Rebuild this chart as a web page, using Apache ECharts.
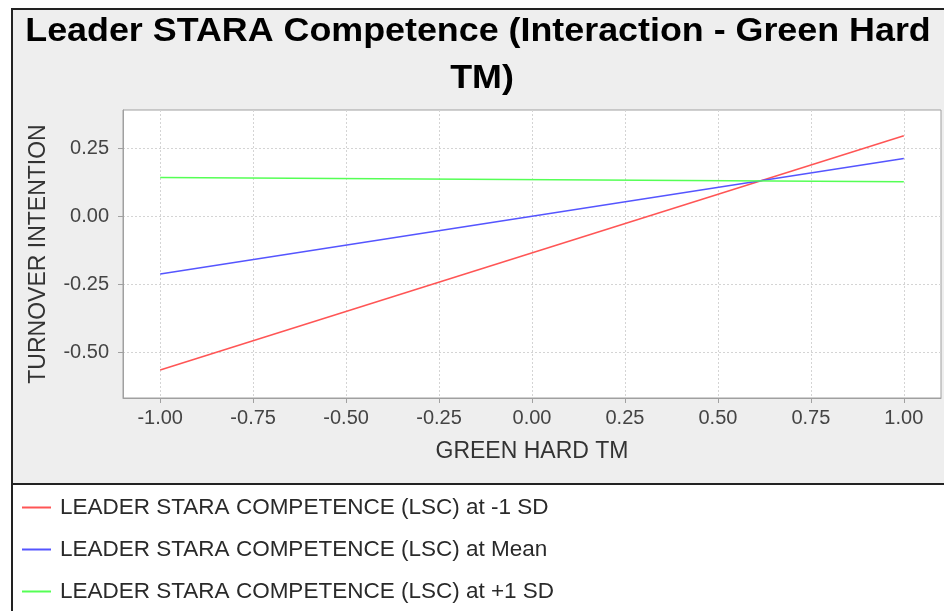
<!DOCTYPE html>
<html>
<head>
<meta charset="utf-8">
<script src="https://cdn.jsdelivr.net/npm/echarts@6/dist/echarts.min.js"></script>
<style>
  html, body { margin: 0; padding: 0; background: #ffffff; }
  #simpleslopes { width: 944px; height: 611px; }
</style>
</head>
<body>
<div id="simpleslopes"></div>
<script>
// values
var xValues = [-1.0, 1.0];
var lscLow = [-0.566, 0.295];
var lscMean = [-0.213, 0.212];
var lscHigh = [0.142, 0.126];
var seriesNames = [
  "LEADER STARA COMPETENCE (LSC) at -1 SD",
  "LEADER STARA COMPETENCE (LSC) at Mean",
  "LEADER STARA COMPETENCE (LSC) at +1 SD"
];
var xTicks = [-1.0, -0.75, -0.5, -0.25, 0.0, 0.25, 0.5, 0.75, 1.0];
var yTicks = [-0.5, -0.25, 0.0, 0.25];

function pairs(ys) {
  return xValues.map(function (x, i) { return [x, ys[i]]; });
}

var myChart = echarts.init(document.getElementById("simpleslopes"));

var font = '"Liberation Sans", Arial, sans-serif';

var option = {
  animation: false,
  backgroundColor: "#ffffff",
  textStyle: { fontFamily: font },
  graphic: [
    {
      type: "rect",
      z: -10,
      silent: true,
      shape: { x: 12, y: 9, width: 940, height: 620 },
      style: { fill: "#eeeeee", stroke: "#222222", lineWidth: 2 }
    },
    {
      type: "rect",
      z: -9,
      silent: true,
      shape: { x: 12, y: 484, width: 940, height: 140 },
      style: { fill: "#ffffff", stroke: "#222222", lineWidth: 2 }
    },
    {
      type: "text",
      x: 478,
      y: 32,
      scaleX: 1.12,
      scaleY: 1.06,
      style: {
        text: "Leader STARA Competence (Interaction - Green Hard",
        font: "bold 32px " + font,
        fill: "#000000",
        align: "center",
        verticalAlign: "middle"
      }
    },
    {
      type: "text",
      x: 482,
      y: 79,
      scaleX: 1.12,
      scaleY: 1.06,
      style: {
        text: "TM)",
        font: "bold 32px " + font,
        fill: "#000000",
        align: "center",
        verticalAlign: "middle"
      }
    }
  ],
  grid: {
    left: 123,
    top: 110,
    width: 818,
    height: 288,
    show: true,
    backgroundColor: "#ffffff",
    borderColor: "#a0a0a0",
    borderWidth: 1
  },
  legend: {
    orient: "vertical",
    left: 22,
    top: 496,
    padding: 0,
    icon: "rect",
    itemWidth: 29,
    itemHeight: 2,
    itemGap: 19,
    textStyle: { fontSize: 22.5, color: "#2a2a2a", lineHeight: 23, padding: [0, 0, 0, 4] },
    data: seriesNames
  },
  xAxis: {
    type: "value",
    min: -1.1,
    max: 1.1,
    name: "GREEN HARD TM",
    nameLocation: "middle",
    nameGap: 42,
    nameTextStyle: { fontSize: 23, color: "#333333" },
    axisLine: { show: true, onZero: false, lineStyle: { color: "#a0a0a0" } },
    axisTick: { show: true, length: 5, customValues: xTicks, lineStyle: { color: "#a0a0a0" } },
    axisLabel: {
      customValues: xTicks,
      margin: 10,
      fontSize: 20,
      color: "#444444",
      formatter: function (v) { return v.toFixed(2); }
    },
    splitLine: { show: true, lineStyle: { color: "#d4d4d4", type: [2, 2] } }
  },
  yAxis: {
    type: "value",
    min: -0.669,
    max: 0.39,
    name: "TURNOVER INTENTION",
    nameLocation: "middle",
    nameGap: 73,
    nameTextStyle: { fontSize: 23, color: "#333333" },
    axisLine: { show: true, onZero: false, lineStyle: { color: "#a0a0a0" } },
    axisTick: { show: true, length: 5, customValues: yTicks, lineStyle: { color: "#a0a0a0" } },
    axisLabel: {
      customValues: yTicks,
      margin: 14,
      fontSize: 20,
      color: "#444444",
      formatter: function (v) { return v.toFixed(2); }
    },
    splitLine: { show: true, lineStyle: { color: "#d4d4d4", type: [2, 2] } }
  },
  series: [
    {
      name: seriesNames[0],
      type: "line",
      data: pairs(lscLow),
      symbol: "none",
      color: "#ff5555",
      lineStyle: { width: 1.5 }
    },
    {
      name: seriesNames[1],
      type: "line",
      data: pairs(lscMean),
      symbol: "none",
      color: "#5555ff",
      lineStyle: { width: 1.5 }
    },
    {
      name: seriesNames[2],
      type: "line",
      data: pairs(lscHigh),
      symbol: "none",
      color: "#55ff55",
      lineStyle: { width: 1.5 }
    }
  ]
};

myChart.setOption(option);
</script>
</body>
</html>
